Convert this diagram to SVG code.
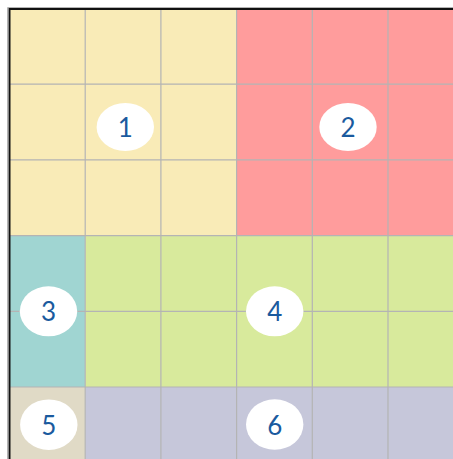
<svg xmlns="http://www.w3.org/2000/svg" width="453" height="459" viewBox="0 0 453 459">
<style>
.g{stroke:#b4b4b4;stroke-width:1.2;fill:none}
.lab ellipse{fill:#ffffff}
.lab text{font-family:Lato,"Open Sans","Liberation Sans",sans-serif;font-size:26px;fill:#1a5a9e;text-anchor:middle;dominant-baseline:central}
</style>
<rect width="453" height="459" fill="#ffffff"/>
<g id="region1"><rect x="9.5" y="8.5" width="227.1" height="227.1" fill="#f9ebb7"/></g>
<g id="region2"><rect x="236.6" y="8.5" width="216.4" height="227.1" fill="#ff9c9c"/></g>
<g id="region3"><rect x="9.5" y="235.6" width="75.7" height="151.4" fill="#a0d5d2"/></g>
<g id="region4"><rect x="85.2" y="235.6" width="367.8" height="151.4" fill="#d8ea9c"/></g>
<g id="region5"><rect x="9.5" y="387" width="75.7" height="72" fill="#e0dac6"/></g>
<g id="region6"><rect x="85.2" y="387" width="367.8" height="72" fill="#c6c7da"/></g>
<g id="grid">
<path class="g" d="M85.2 8.5V459M160.9 8.5V459M236.6 8.5V459M312.3 8.5V459M388 8.5V459M9.5 84.2H453M9.5 159.9H453M9.5 235.6H453M9.5 311.3H453M9.5 387H453"/>
<path d="M7.5 459V7.5H453" stroke="#b4b4b4" stroke-width="1" fill="none"/>
<path d="M9.5 459V9H453" stroke="#111111" stroke-width="2" fill="none"/>
</g>
<g id="label1" class="lab"><ellipse cx="125.3" cy="127" rx="28.7" ry="24"/><text x="125.3" y="127">1</text></g>
<g id="label2" class="lab"><ellipse cx="348" cy="127" rx="28.7" ry="24"/><text x="348" y="127">2</text></g>
<g id="label3" class="lab"><ellipse cx="48.5" cy="311.3" rx="28.7" ry="25"/><text x="48.5" y="311.3">3</text></g>
<g id="label4" class="lab"><ellipse cx="274.7" cy="311.3" rx="28.7" ry="25"/><text x="274.7" y="311.3">4</text></g>
<g id="label5" class="lab"><ellipse cx="48.8" cy="424.7" rx="28.7" ry="25.3"/><text x="48.8" y="424.7">5</text></g>
<g id="label6" class="lab"><ellipse cx="274.7" cy="424.5" rx="28.7" ry="25.3"/><text x="274.7" y="424.5">6</text></g>
</svg>
